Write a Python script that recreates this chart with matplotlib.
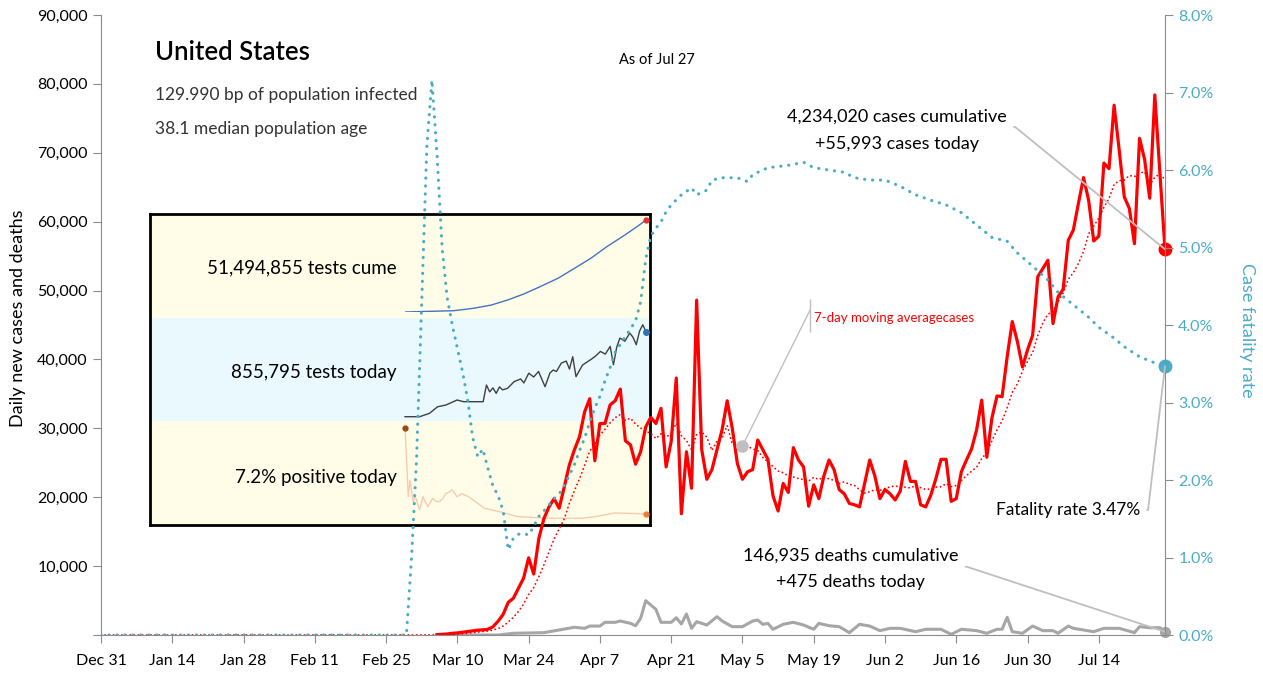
import matplotlib
matplotlib.use('Agg')
import matplotlib.pyplot as plt
import pandas as pd
from matplotlib.ticker import FuncFormatter

plt.rcParams['font.family'] = ['Lato', 'DejaVu Sans']

# day 0 = Dec 31 2019 ... day 209 = Jul 27 2020
tick_days = list(range(0, 197, 14))
tick_labels = ['Dec 31', 'Jan 14', 'Jan 28', 'Feb 11', 'Feb 25', 'Mar 10', 'Mar 24',
               'Apr 7', 'Apr 21', 'May 5', 'May 19', 'Jun 2', 'Jun 16', 'Jun 30', 'Jul 14']
last_day = 209

# daily new cases, from Mar 6 (day 66)
case_start = 66
cases = [50, 100, 150, 250, 300, 400, 500, 600, 700, 750,
         830, 1200, 2000, 3000, 4750, 5330, 6800, 8230, 11200, 8850,
         14000, 16900, 18600, 19800, 18400, 21500, 24700, 26900, 28800, 32400,
         34300, 25300, 30700, 30700, 33400, 34000, 35700, 28200, 27600, 24800,
         26600, 30200, 31600, 30700, 32900, 24400, 28100, 37300, 17600, 26600,
         21300, 48600, 26900, 22600, 24000, 26900, 29800, 34000, 30000, 24900,
         22600, 23700, 24000, 28300, 26900, 25500, 20200, 18000, 22000, 20700,
         27200, 25400, 24400, 18700, 21800, 19800, 23100, 25400, 24000, 21100,
         20500, 19100, 18900, 18600, 22000, 25400, 23100, 19800, 21100, 20500,
         19600, 20900, 25200, 22300, 22300, 18900, 18600, 20300, 22700, 25500,
         25500, 19400, 19800, 23700, 25400, 27000, 29800, 34100, 25800, 31500,
         34700, 34600, 40400, 45500, 42600, 38900, 41400, 43500, 52000, 53200,
         54400, 45200, 49100, 50200, 57300, 58800, 62700, 66400, 63100, 57200,
         57900, 68500, 67700, 76900, 70400, 63600, 61900, 56800, 72100, 69000,
         63400, 78400, 67000, 55993]

# daily deaths
death_days = [66, 78, 81, 87, 90, 93, 95, 96, 98, 99, 101, 102, 104, 105, 106, 107, 109, 110,
              112, 113, 114, 115, 116, 117, 119, 121, 122, 124, 126, 128, 129, 130, 131, 132,
              134, 136, 138, 140, 141, 143, 145, 147, 149, 151, 153, 155, 157, 160, 162, 165,
              167, 169, 172, 174, 176, 177, 178, 179, 181, 183, 185, 187, 188, 190, 191, 195,
              197, 200, 203, 204, 206, 208, 209]
deaths = [0, 0, 250, 340, 730, 1120, 970, 1300, 1300, 1840, 1840, 2030, 1690, 1350, 2420, 4980,
          3730, 1840, 1840, 2510, 1600, 3050, 970, 1930, 1450, 2660, 2030, 1210, 1210, 2030,
          2180, 1550, 1690, 830, 1550, 1840, 1450, 830, 1690, 1350, 1210, 340, 1550, 1300, 630,
          970, 970, 480, 830, 830, 100, 830, 630, 250, 830, 830, 2570, 480, 250, 1300, 630, 630,
          250, 1300, 970, 480, 970, 970, 340, 1210, 1060, 1060, 475]

# case fatality rate (%)
fatal_days = [0, 60, 61, 62, 63, 64, 65, 66, 67, 68, 69, 70, 71, 72, 73, 74, 75, 76, 77, 78, 79,
              80, 81, 82, 83, 84, 85, 86, 87, 88, 89, 90, 91, 92, 93, 94, 95, 96, 97, 98, 99,
              100, 101, 102, 103, 104, 105, 106, 107, 108, 109, 110, 111, 112, 114, 116, 117,
              119, 120, 122, 125, 127, 128, 131, 135, 138, 140, 143, 146, 148, 151, 154, 157,
              160, 163, 166, 169, 172, 175, 178, 180, 183, 186, 188, 191, 194, 196, 199, 201,
              204, 207, 209]
fatal = [0, 0, 1.0, 2.3, 4.3, 6.3, 7.16, 6.2, 5.0, 4.35, 4.0, 3.7, 3.4, 3.05, 2.55, 2.3, 2.4,
         2.15, 1.92, 1.8, 1.6, 1.1, 1.25, 1.30, 1.31, 1.29, 1.40, 1.53, 1.60, 1.68, 1.76, 1.82,
         1.93, 2.06, 2.20, 2.38, 2.54, 2.75, 2.93, 3.08, 3.28, 3.45, 3.65, 3.75, 3.85, 3.95,
         4.05, 4.3, 4.85, 5.15, 5.25, 5.33, 5.46, 5.55, 5.68, 5.77, 5.68, 5.74, 5.87, 5.90,
         5.90, 5.85, 5.94, 6.03, 6.06, 6.10, 6.03, 6.0, 5.97, 5.90, 5.87, 5.87, 5.79, 5.68,
         5.61, 5.55, 5.45, 5.29, 5.13, 5.08, 4.93, 4.76, 4.58, 4.42, 4.26, 4.10, 3.97, 3.83,
         3.72, 3.59, 3.51, 3.47]

# testing panel
cume_days = [61, 91, 103, 114, 124, 134, 144, 155, 165, 175, 185, 196, 204, 209]
tests_cume = [0, 730000, 2070000, 3900000, 6700000, 10100000, 14200000, 18900000,
              24400000, 30000000, 36600000, 43100000, 48100000, 51494855]

today_days = [61, 70, 76, 81, 86, 93, 97, 103, 109, 111, 113, 115, 117, 119, 121, 124, 128, 132,
              134, 137, 140, 143, 147, 150, 152, 154, 157, 160, 162, 164, 166, 170, 175, 178,
              181, 184, 187, 189, 191, 193, 196, 199, 201, 203, 205, 207, 209]
tests_today = [0, 0, 33600, 100000, 117000, 168000, 151000, 151000, 151000, 319000, 250000,
               290000, 235000, 300000, 270000, 286000, 353000, 380000, 340000, 438000, 400000,
               455000, 302000, 440000, 470000, 455000, 540000, 560000, 480000, 604000, 403000,
               520000, 574000, 610000, 657000, 630000, 708000, 523000, 700000, 792000, 760000,
               842000, 800000, 725000, 860000, 926000, 855795]

pos_days = [61, 62, 63, 64, 65, 66, 67, 68, 69, 70, 72, 75, 78, 80, 82, 84, 86, 88, 90, 93, 96,
            100, 110, 120, 130, 150, 170, 180, 190, 200, 209]
pos_rate = [63.3, 42.5, 18.5, 29.2, 22.7, 15.3, 18.5, 17.0, 12.5, 10.0, 18.5, 12.0, 17.5, 15.5,
            15.3, 17.0, 20.5, 21.5, 23.0, 18.5, 20.5, 18.5, 10.9, 8.5, 5.5, 4.4, 4.4, 5.9, 7.9,
            7.6, 7.2]

RED = '#FF0000'
TEAL = '#4BACC6'
GRAY = '#A6A6A6'
LEAD = '#BFBFBF'

case_s = pd.Series(cases, index=range(case_start, case_start + len(cases)))
full = case_s.reindex(range(0, last_day + 1), fill_value=0)
ma7 = full.rolling(7, min_periods=1).mean()

fig = plt.figure(figsize=(12.63, 6.73), dpi=100)
ax = fig.add_axes([0.07997, 0.05646, 0.84244, 0.92125])
ax2 = ax.twinx()

# --- tests panel (behind the main chart) ---
box = fig.add_axes([0.11876, 0.21991, 0.39588, 0.46211], zorder=1)
box.set_xlim(0, 1)
box.set_ylim(0, 3)
box.axhspan(2, 3, color='#FFFDE8', lw=0)
box.axhspan(1, 2, color='#EAF9FE', lw=0)
box.axhspan(0, 1, color='#FFFDE8', lw=0)
box.set_xticks([])
box.set_yticks([])
for s in box.spines.values():
    s.set_linewidth(2)
    s.set_color('black')
box.text(0.494, 2.48, '{:,} tests cume'.format(tests_cume[-1]), ha='right', va='center', fontsize=13.5)
box.text(0.494, 1.47, '{:,} tests today'.format(tests_today[-1]), ha='right', va='center', fontsize=13.5)
box.text(0.494, 0.46, '{:.1f}% positive today'.format(pos_rate[-1]), ha='right', va='center', fontsize=13.5)

def spark(rect):
    a = fig.add_axes(rect, zorder=2)
    a.set_xlim(cume_days[0], last_day)
    a.axis('off')
    return a

sc = spark([0.32067, 0.53640, 0.19082, 0.13670])
sc.plot(cume_days, tests_cume, color='#4472C4', lw=1)
sc.plot(cume_days[-1], tests_cume[-1], 'o', color='#E03030', ms=3.5, clip_on=False)
sc.set_ylim(0, tests_cume[-1])

st = spark([0.32067, 0.38083, 0.19082, 0.12630])
st.plot(today_days, tests_today, color='#404040', lw=1, clip_on=False)
st.plot(today_days[-1], tests_today[-1], 'o', color='#2E75B6', ms=4, clip_on=False)
st.set_ylim(0, tests_today[-1])

sp = spark([0.32067, 0.21991, 0.19082, 0.14368])
sp.plot(pos_days, pos_rate, color='#F8CBAD', lw=1, clip_on=False)
sp.plot(pos_days[0], pos_rate[0], 'o', color='#9C4A10', ms=3.5, clip_on=False)
sp.plot(pos_days[-1], pos_rate[-1], 'o', color='#ED7D31', ms=3.5, clip_on=False)
sp.set_ylim(0, pos_rate[0])

ax.set_zorder(3)
ax2.set_zorder(4)
ax.patch.set_visible(False)

# --- main series ---
ax.plot(death_days, deaths, color=GRAY, lw=2.2, solid_joinstyle='round')
ax.plot(ma7.index, ma7.values, color=RED, lw=1.3, linestyle=(0, (0.1, 2.2)), dash_capstyle='round')
ax.plot(case_s.index, case_s.values, color=RED, lw=2.3, solid_joinstyle='round')
ax.plot(last_day, cases[-1], 'o', color=RED, ms=9, clip_on=False)
ax.plot(last_day, deaths[-1], 'o', color=GRAY, ms=7, clip_on=False)

ax2.plot(fatal_days, fatal, color=TEAL, lw=2.2, linestyle=(0, (0.1, 2.5)), dash_capstyle='round')
ax2.plot(last_day, fatal[-1], 'o', color=TEAL, ms=9, clip_on=False)

ax.set_xlim(0, last_day)
ax.set_ylim(0, 90000)
ax2.set_ylim(0, 8)
ax.set_xticks(tick_days)
ax.set_xticklabels(tick_labels)
ax.set_yticks(range(0, 90001, 10000))
ax.yaxis.set_major_formatter(FuncFormatter(lambda v, p: '' if v == 0 else '{:,.0f}'.format(v)))
ax2.set_yticks(range(0, 9))
ax2.yaxis.set_major_formatter(FuncFormatter(lambda v, p: '{:.1f}%'.format(v)))

for a in (ax, ax2):
    a.spines['top'].set_visible(False)
    for s in ('left', 'right', 'bottom'):
        a.spines[s].set_color('#8C8C8C')
ax.spines['right'].set_visible(False)
ax2.spines['left'].set_visible(False)
ax2.spines['bottom'].set_visible(False)
ax.tick_params(axis='both', colors='#8C8C8C', labelcolor='black', labelsize=11.5, length=6)
ax.tick_params(axis='x', pad=8)
ax2.tick_params(axis='y', colors='#8C8C8C', labelcolor=TEAL, labelsize=11.5, length=6)

fig.text(18 / 1263, 1 - 318 / 673, 'Daily new cases and deaths', rotation=90, ha='center', va='center', fontsize=13)
fig.text(1247 / 1263, 1 - 330 / 673, 'Case fatality rate', rotation=270, ha='center', va='center', fontsize=13, color=TEAL)

# --- titles and notes ---
ax.text(0.0508, 0.940, 'United States', transform=ax.transAxes, fontsize=18.5, fontweight='semibold', va='center')
ax.text(0.0508, 0.871, '129.990 bp of population infected', transform=ax.transAxes, fontsize=12.5, va='center', color='#333333')
ax.text(0.0508, 0.816, '38.1 median population age', transform=ax.transAxes, fontsize=12.5, va='center', color='#333333')
ax.text(0.5226, 0.9274, 'As of Jul 27', transform=ax.transAxes, fontsize=10.5, ha='center', va='center')

ax.annotate('4,234,020 cases cumulative\n+55,993 cases today', xy=(last_day, cases[-1]),
            xytext=(156.4, 73250), ha='center', va='center', fontsize=13, linespacing=1.85,
            arrowprops=dict(arrowstyle='-', color=LEAD, lw=1.3, relpos=(1, 0.58), shrinkA=3, shrinkB=0,
                            connectionstyle='arc,angleA=0,armA=8,angleB=0,armB=0,rad=0'))
ax.annotate('146,935 deaths cumulative\n+475 deaths today', xy=(last_day, deaths[-1]),
            xytext=(147.3, 9600), ha='center', va='center', fontsize=13, linespacing=1.85,
            arrowprops=dict(arrowstyle='-', color=LEAD, lw=1.3, relpos=(1, 0.55), shrinkA=3, shrinkB=0,
                            connectionstyle='arc,angleA=0,armA=8,angleB=0,armB=0,rad=0'))
ax2.annotate('Fatality rate {:.2f}%'.format(fatal[-1]), xy=(last_day, fatal[-1]),
             xytext=(204.1, 1.613), ha='right', va='center', fontsize=12.5,
             arrowprops=dict(arrowstyle='-', color=LEAD, lw=1.3, relpos=(1, 0.5), shrinkA=3, shrinkB=0,
                             connectionstyle='arc,angleA=0,armA=8,angleB=0,armB=0,rad=0'))

# 7-day average callout
ma_pt = 126
ax.plot(ma_pt, ma7[ma_pt], 'o', color=LEAD, ms=8)
ax.annotate('', xy=(ma_pt, ma7[ma_pt]), xytext=(139.3, 47200),
            arrowprops=dict(arrowstyle='-', color=LEAD, lw=1, shrinkA=0, shrinkB=0))
ax.vlines(139.3, 43980, 48770, color=LEAD, lw=1)
ax.text(140.1, 46020, '7-day moving averagecases', ha='left', va='center', fontsize=9.5, color=RED)

fig.savefig('out.png', dpi=100)
